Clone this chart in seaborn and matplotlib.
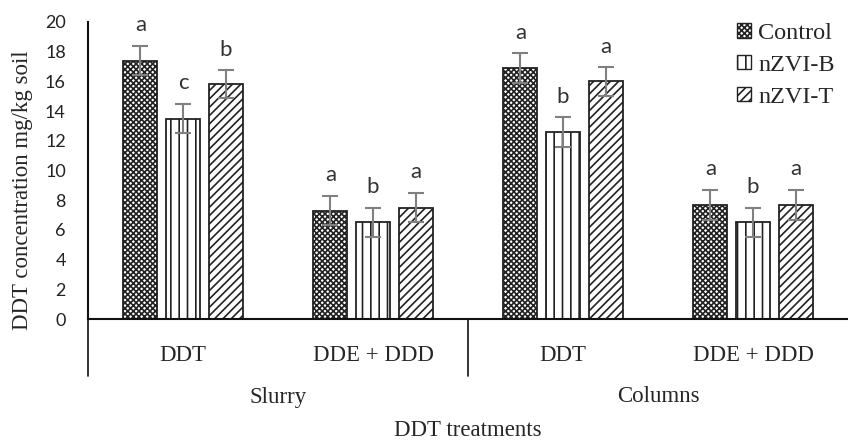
import numpy as np
import pandas as pd
import seaborn as sns
import matplotlib.pyplot as plt
import matplotlib.patches as mpatches

# Data
groups = ['Slurry DDT', 'Slurry DDE + DDD', 'Columns DDT', 'Columns DDE + DDD']
group_ticks = ['DDT', 'DDE + DDD', 'DDT', 'DDE + DDD']
systems = ['Slurry', 'Columns']
treatments = ['Control', 'nZVI-B', 'nZVI-T']

control = [17.4, 7.3, 16.9, 7.7]
nzvi_b = [13.5, 6.5, 12.6, 6.5]
nzvi_t = [15.8, 7.5, 16.0, 7.7]

control_err = [1.0, 1.0, 1.0, 1.0]
nzvi_b_err = [1.0, 1.0, 1.0, 1.0]
nzvi_t_err = [0.95, 1.0, 0.95, 1.0]

control_sig = ['a', 'a', 'a', 'a']
nzvi_b_sig = ['c', 'b', 'b', 'b']
nzvi_t_sig = ['b', 'a', 'a', 'a']

values = {'Control': control, 'nZVI-B': nzvi_b, 'nZVI-T': nzvi_t}
errors = {'Control': control_err, 'nZVI-B': nzvi_b_err, 'nZVI-T': nzvi_t_err}
letters = {'Control': control_sig, 'nZVI-B': nzvi_b_sig, 'nZVI-T': nzvi_t_sig}

df = pd.DataFrame([
    {'group': g, 'treatment': t, 'value': values[t][i]}
    for t in treatments for i, g in enumerate(groups)
])

sns.set_style('white')
plt.rcParams['hatch.linewidth'] = 1.2
serif = 'Liberation Serif'
sans = 'Lato'

fig = plt.figure(figsize=(8.48, 4.41), dpi=100)
ax = fig.add_axes([88 / 848, 1 - 319 / 441, 760 / 848, 297 / 441])

sns.barplot(data=df, x='group', y='value', hue='treatment', order=groups,
            hue_order=treatments, errorbar=None, width=0.672, gap=0.2,
            palette=['white'] * 3, edgecolor='#222222', linewidth=1.3,
            legend=False, ax=ax)

hatches = {'Control': 'xxxxxx', 'nZVI-B': '||', 'nZVI-T': '////'}
for cont, t in zip(ax.containers, treatments):
    xs, ys = [], []
    for p in cont:
        p.set_hatch(hatches[t])
        p.set_facecolor('white')
        p.set_edgecolor('#222222')
        xs.append(p.get_x() + p.get_width() / 2)
        ys.append(p.get_height())
    ax.errorbar(xs, ys, yerr=errors[t], fmt='none', ecolor='#808080',
                elinewidth=1.5, capsize=6, capthick=1.5, zorder=5)
    for x, y, e, s in zip(xs, ys, errors[t], letters[t]):
        ax.text(x, y + e + 0.7, s, ha='center', va='bottom',
                fontsize=16, family=sans, color='#333333')

ax.set_xlim(-0.5, 3.5)
ax.set_ylim(0, 20)
ax.set_yticks(np.arange(0, 21, 2))
ax.tick_params(axis='y', length=0, pad=16, labelsize=13)
for lbl in ax.get_yticklabels():
    lbl.set_family(sans)
    lbl.set_color('#222222')
ax.set_xticks(range(len(groups)))
ax.set_xticklabels(group_ticks, family=serif, fontsize=16.5)
ax.tick_params(axis='x', length=0, pad=19)
ax.set_xlabel('')
ax.set_ylabel('')

for side in ['top', 'right']:
    ax.spines[side].set_visible(False)
for side in ['left', 'bottom']:
    ax.spines[side].set_color('#111111')
    ax.spines[side].set_linewidth(1.5)

# hierarchical category axis lines
xt = ax.get_xaxis_transform()
drop = -57 / 297
ax.plot([-0.5, -0.5], [0, drop], transform=xt, color='#111111', lw=1.2, clip_on=False)
ax.plot([1.5, 1.5], [0, drop], transform=xt, color='#111111', lw=1.2, clip_on=False)

for i, s in enumerate(systems):
    ax.text(0.5 + 2 * i, -(397 - 319) / 297, s, transform=xt, ha='center',
            va='center', family=serif, fontsize=16.5)

ax.text(0.5, -(430 - 319) / 297, 'DDT treatments', transform=ax.transAxes,
        ha='center', va='center', family=serif, fontsize=16.5)
fig.text(23 / 848, 1 - 190 / 441, 'DDT concentration mg/kg soil', rotation=90,
         ha='center', va='center', family=serif, fontsize=16.5)

handles = [mpatches.Patch(facecolor='white', edgecolor='#222222',
                          hatch=hatches[t], label=t) for t in treatments]
ax.legend(handles=handles, loc='upper right', bbox_to_anchor=(0.995, 1.03),
          frameon=False, prop={'family': serif, 'size': 17.5},
          handlelength=0.55, handleheight=0.55, handletextpad=0.3,
          labelspacing=0.45, borderaxespad=0)

fig.savefig('out.png', dpi=100)
